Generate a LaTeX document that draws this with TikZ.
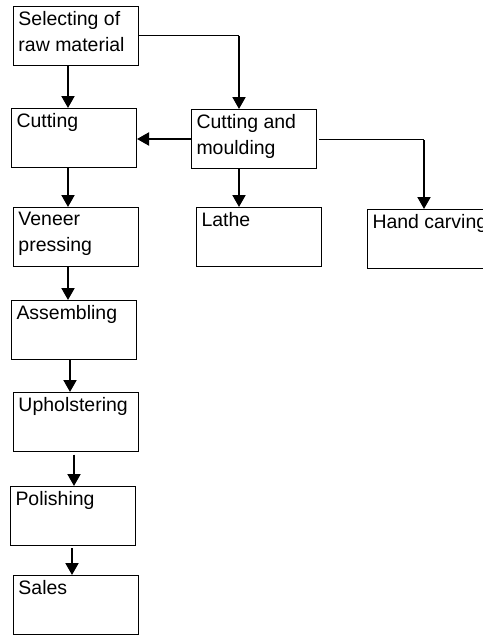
\documentclass[tikz,border=0pt]{standalone}
\usepackage{fontspec}
\setmainfont{Liberation Sans}
\usetikzlibrary{arrows.meta}

\newcommand{\stagetext}[1]{\parbox[t][36.75pt][t]{86.25pt}{\raggedright #1}}

\tikzset{
  stage/.style={draw, line width=0.75pt, anchor=north west, inner sep=3.75pt,
    font=\fontsize{14.6pt}{19.5pt}\selectfont},
  flow/.style={line width=1.5pt, -{Triangle[length=9pt,width=9.75pt]}},
  link/.style={line width=0.75pt},
}

\begin{document}
\begin{tikzpicture}[x=0.75pt, y=-0.75pt]
        \useasboundingbox (0,0) rectangle (482,635);

        % Main column
        \node[stage] (sel) at (13,6)   {\stagetext{Selecting of\\raw material}};
        \node[stage] (cut) at (11,108) {\stagetext{Cutting}};
        \node[stage] (ven) at (13,207) {\stagetext{Veneer\\pressing}};
        \node[stage] (ass) at (11,300) {\stagetext{Assembling}};
        \node[stage] (uph) at (13,392) {\stagetext{Upholstering}};
        \node[stage] (pol) at (10,486) {\stagetext{Polishing}};
        \node[stage] (sal) at (13,575) {\stagetext{Sales}};

        % Side branch
        \node[stage] (cam)   at (191,109) {\stagetext{Cutting and\\moulding}};
        \node[stage] (lathe) at (196,207) {\stagetext{Lathe}};
        \node[stage] (hand)  at (367,209) {\stagetext{\mbox{Hand carving}}};

        % Arrow columns
        \coordinate (colA) at (68,0);
        \coordinate (colB) at (70,0);
        \coordinate (colC) at (74,0);
        \coordinate (colD) at (72,0);
        \coordinate (colE) at (239,0);
        \coordinate (colF) at (424,0);

        % Main flow
        \draw[flow] (sel.south -| colA) -- (cut.north -| colA);
        \draw[flow] (cut.south -| colA) -- (ven.north -| colA);
        \draw[flow] (ven.south -| colA) -- (ass.north -| colA);
        \draw[flow] (ass.south -| colB) -- (uph.north -| colB);
        \draw[flow, shorten <=2pt] (uph.south -| colC) -- (pol.north -| colC);
        \draw[flow, shorten <=1.5pt] (pol.south -| colD) -- (sal.north -| colD);

        % Branch flow
        \draw[link] (sel.east) -- (sel.east -| colE);
        \draw[flow] (sel.east -| colE) -- (cam.north -| colE);
        \draw[flow] (cam.west) -- (cut.east |- cam.west);
        \draw[flow] (cam.south -| colE) -- (lathe.north -| colE);
        \draw[link] ([xshift=1.5pt]cam.east) -- (cam.east -| colF);
        \draw[flow] ([yshift=-1pt]cam.east -| colF) -- (hand.north -| colF);
    \end{tikzpicture}
\end{document}
